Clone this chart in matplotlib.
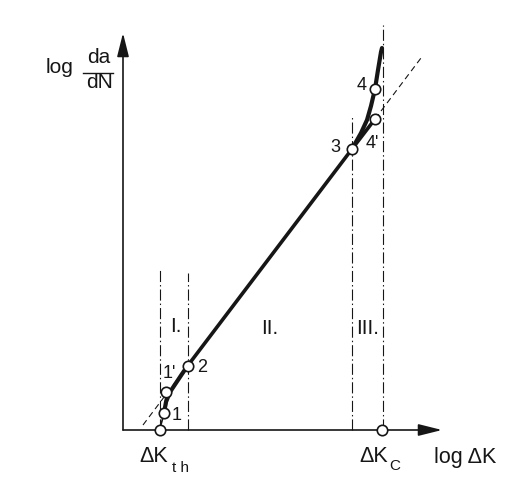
import matplotlib
matplotlib.use("Agg")
import matplotlib.pyplot as plt

plt.rcParams['font.family'] = ['Liberation Sans', 'DejaVu Sans']

# ---- schematic data (log dK on x, log da/dN on y, arbitrary units) ----
# characteristic points: dK_th, 1, 1', 2, 3, 4', 4, dK_c
point_x = [37, 41, 43, 64.5, 229, 252, 252, 259]
point_y = [0, 17, 38, 64, 281, 311, 341, 0]

# thin lower part of the curve (dK_th -> 1)
low_thin_x = [37, 39, 41]
low_thin_y = [2, 9, 17]
# thick region I curve (1 -> 2)
reg1_x = [41, 43, 47, 53, 59, 64.5]
reg1_y = [17, 28, 38, 47, 56, 64]
# dark wedge between 1 and 1'
wedge1_x = [41, 42, 46, 44]
wedge1_y = [19, 37, 36, 24]
# straight Paris line (2 -> 3 -> 4')
paris_x = [64.5, 229, 252]
paris_y = [64, 281, 311]
# thick region III curve (3 -> 4 -> top)
reg3_x = [229, 238, 244, 248, 252, 255, 258, 259]
reg3_y = [281, 297, 310, 324, 341, 360, 378, 382]
# dashed extension of the Paris line
dash_low_x = [20, 64.5]
dash_low_y = [5, 64]
dash_up_x = [252, 298]
dash_up_y = [311, 372]

# dash-dot region boundaries: x position and top
bound_x = [37, 65, 229, 260]
bound_top = [160, 157, 313, 405]

# labels
pt_labels = ["1", "1'", "2", "3", "4'", "4"]
pt_label_x = [54, 46, 79, 212, 249, 239]
pt_label_y = [15, 57, 62, 283, 287, 345]
region_labels = ["I.", "II.", "III."]
region_x = [53, 147, 245]
region_y = [103, 102, 101]

ink = '#161616'

fig = plt.figure(figsize=(5.08, 4.78), dpi=100)
ax = fig.add_axes([0, 0, 1, 1])
ax.set_xlim(-123, 385)
ax.set_ylim(-48, 430)
ax.axis('off')

# axes with arrows
arr = dict(arrowstyle='-|>,head_length=0.8,head_width=0.2', lw=1.2,
           color=ink, mutation_scale=18, shrinkA=0, shrinkB=0)
ax.annotate('', xy=(0, 397), xytext=(0, 0), arrowprops=arr)
ax.annotate('', xy=(319, 0), xytext=(0, 0), arrowprops=arr)

# region boundaries
for bx, bt in zip(bound_x, bound_top):
    ax.plot([bx, bx], [0, bt], color=ink, lw=0.8,
            linestyle=(0, (10, 2.7, 1.3, 2.7)))

# dashed Paris extension
ax.plot(dash_low_x, dash_low_y, color=ink, lw=0.8, linestyle=(0, (5.4, 3.6)))
ax.plot(dash_up_x, dash_up_y, color=ink, lw=0.8, linestyle=(0, (5.4, 3.6)))

# curves
ax.plot(low_thin_x, low_thin_y, color=ink, lw=1.2, solid_capstyle='round')
ax.fill(wedge1_x, wedge1_y, color=ink, lw=0)
ax.plot(reg1_x, reg1_y, color=ink, lw=3.0, solid_capstyle='round')
ax.plot(paris_x, paris_y, color=ink, lw=2.6, solid_capstyle='round')
ax.plot(reg3_x, reg3_y, color=ink, lw=3.0, solid_capstyle='round')

# circles
ax.plot(point_x, point_y, 'o', ms=7.5, mfc='white', mec=ink, mew=1.2, zorder=5)

for s, x, y in zip(pt_labels, pt_label_x, pt_label_y):
    ax.text(x, y, s, fontsize=13, ha='center', va='center', color=ink)
for s, x, y in zip(region_labels, region_x, region_y):
    ax.text(x, y, s, fontsize=15, ha='center', va='center', color=ink)

# axis titles
ax.text(-63, 363, "log", fontsize=15, ha='center', va='center', color=ink)
ax.text(-24.5, 373, "da", fontsize=15, ha='center', va='center', color=ink)
ax.plot([-40, -10], [357.5, 357.5], color=ink, lw=1.0)
ax.text(-23, 348, "dN", fontsize=15, ha='center', va='center', color=ink)

ax.text(30.5, -27, "ΔK", fontsize=15.5, ha='center', va='center', color=ink)
ax.text(57, -38, "t h", fontsize=11, ha='center', va='center', color=ink)
ax.text(250.5, -27, "ΔK", fontsize=15.5, ha='center', va='center', color=ink)
ax.text(271.5, -36, "C", fontsize=11, ha='center', va='center', color=ink)
ax.text(342, -27, "log ΔK", fontsize=15.5, ha='center', va='center', color=ink)

fig.savefig("out.png", dpi=100, facecolor='white')
